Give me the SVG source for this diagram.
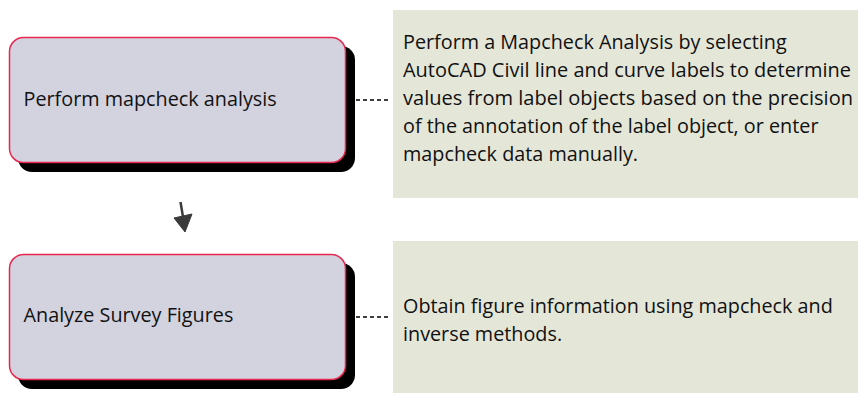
<svg xmlns="http://www.w3.org/2000/svg" width="858" height="394" viewBox="0 0 858 394">
<style>
.shadow{fill:#000}
.box{fill:#d3d3df;stroke:#e8274f;stroke-width:1.5}
.note{fill:#e4e6d8}
.t{font-family:"Open Sans","Liberation Sans",sans-serif;font-size:19.8px;fill:#111}
.l{font-family:"Open Sans","Liberation Sans",sans-serif;font-size:19.8px;fill:#111}
.dash{stroke:#000;stroke-width:1.4;stroke-dasharray:4 3;fill:none}
</style>
<rect width="858" height="394" fill="#fff"/>
<g id="note1">
<rect class="note" x="393" y="10" width="465" height="188"/>
<text class="t" x="403" y="49">Perform a Mapcheck Analysis by selecting</text>
<text class="t" x="403" y="77" textLength="448" lengthAdjust="spacingAndGlyphs">AutoCAD Civil line and curve labels to determine</text>
<text class="t" x="403" y="105" textLength="450" lengthAdjust="spacingAndGlyphs">values from label objects based on the precision</text>
<text class="t" x="403" y="133">of the annotation of the label object, or enter</text>
<text class="t" x="403" y="161">mapcheck data manually.</text>
</g>
<g id="note2">
<rect class="note" x="393" y="241" width="465" height="152"/>
<text class="t" x="403" y="313">Obtain figure information using mapcheck and</text>
<text class="t" x="403" y="341">inverse methods.</text>
</g>
<g id="node1">
<rect class="shadow" x="18" y="46" width="337" height="126" rx="14"/>
<rect class="box" x="9.5" y="37.5" width="336" height="125" rx="14"/>
<text class="l" x="23.5" y="106">Perform mapcheck analysis</text>
</g>
<g id="node2">
<rect class="shadow" x="18" y="263" width="337" height="126" rx="14"/>
<rect class="box" x="9.5" y="254.5" width="336" height="125" rx="14"/>
<text class="l" x="23.5" y="322">Analyze Survey Figures</text>
</g>
<g id="connectors">
<line class="dash" x1="356" y1="100" x2="390" y2="100"/>
<line class="dash" x1="356" y1="317" x2="390" y2="317"/>
<g fill="#3a3a3a" stroke="#3a3a3a">
<line x1="180.5" y1="202" x2="183.5" y2="220" stroke-width="2.5"/>
<polygon points="174,218 192,214 185,232" stroke-width="1"/>
</g>
</g>
</svg>
